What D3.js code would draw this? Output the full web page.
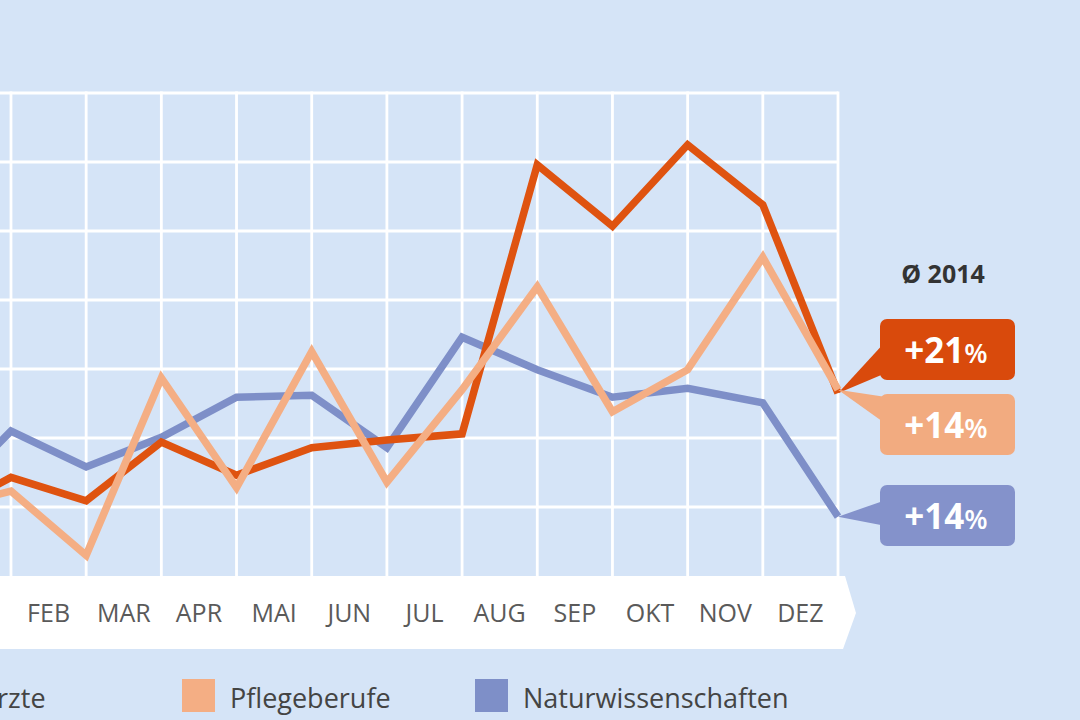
<!DOCTYPE html>
<html>
<head>
<meta charset="utf-8">
<script src="https://cdnjs.cloudflare.com/ajax/libs/d3/7.8.5/d3.min.js"></script>
<style>
body { margin: 0; background: #d5e4f7; }
svg { display: block; font-family: "Open Sans", sans-serif; }
</style>
</head>
<body>
<script>
// month labels (JAN sits left of the visible area)
var months = ["JAN", "FEB", "MAR", "APR", "MAI", "JUN", "JUL", "AUG", "SEP", "OKT", "NOV", "DEZ"];

// first value = starting point left of JAN (outside the picture), then JAN..DEZ
var aerzte = [8.4, 14.3, 10.9, 19.4, 14.6, 18.6, 19.7, 20.6, 59.6, 50.7, 62.5, 53.8, 26.5];
var pflege = [9.5, 12.3, 3.0, 28.7, 12.8, 32.5, 13.6, 27.0, 41.9, 23.8, 29.9, 46.2, 27.0];
var natur  = [10.1, 21.0, 15.8, 20.1, 25.9, 26.2, 18.6, 34.6, 29.9, 25.9, 27.2, 25.1, 8.6];

// yearly averages shown in the callouts
var seriesNames = ["Ärzte", "Pflegeberufe", "Naturwissenschaften"];
var averages = ["+21", "+14", "+14"];
var avgTitle = "Ø 2014";

var yTicks = [0, 10, 20, 30, 40, 50, 60, 70];

window.onload = drawChart();

function drawChart(){

    var width = 1080,
        height = 720;

    var colors = ["#df5310", "#f4ae84", "#7e8fc8"];
    var boxColors = ["#d94a0c", "#f2ab80", "#8492cb"];

    var svg = d3.select("body")
        .append("svg")
        .attr("width", width)
        .attr("height", height);

    //index -1 = start point, 0..11 = JAN..DEZ
    var x = d3.scaleLinear()
        .domain([-1, 11])
        .range([-64.2, 838]);

    var y = d3.scaleLinear()
        .domain([0, 70])
        .range([576, 93]);

    var idx = d3.range(-1, 12);

    //grid
    var grid = svg.append("g").attr("class", "grid");

    grid.selectAll(".hline")
        .data(yTicks.slice(1))
        .enter()
        .append("line")
        .attr("x1", -80)
        .attr("x2", x(11))
        .attr("y1", function(d){ return y(d); })
        .attr("y2", function(d){ return y(d); })
        .attr("stroke", "#fff")
        .attr("stroke-width", 2.8);

    grid.selectAll(".vline")
        .data(idx)
        .enter()
        .append("line")
        .attr("x1", function(d){ return x(d); })
        .attr("x2", function(d){ return x(d); })
        .attr("y1", y(70) - 1.4)
        .attr("y2", y(0))
        .attr("stroke", "#fff")
        .attr("stroke-width", 2.8);

    //white month band with arrow tip
    svg.append("path")
        .attr("d", "M-10,576 L845,576 L856,613 L843,649 L-10,649 Z")
        .attr("fill", "#fff");

    svg.selectAll(".month")
        .data(months)
        .enter()
        .append("text")
        .attr("class", "month")
        .attr("x", function(d, i){ return x(i - 0.5); })
        .attr("y", 622)
        .attr("text-anchor", "middle")
        .attr("font-size", 25)
        .attr("fill", "#5a5a5a")
        .text(function(d){ return d; });

    //lines: blue first, then red, peach on top
    var line = d3.line()
        .x(function(d, i){ return x(i - 1); })
        .y(function(d){ return y(d); });

    var series = [aerzte, pflege, natur];
    [2, 0, 1].forEach(function(k){
        svg.append("path")
            .datum(series[k])
            .attr("d", line)
            .attr("fill", "none")
            .attr("stroke", colors[k])
            .attr("stroke-width", 7.5)
            .attr("stroke-linejoin", "miter")
            .attr("stroke-miterlimit", 10);
    });

    //callouts
    svg.append("text")
        .attr("x", 943)
        .attr("y", 283)
        .attr("text-anchor", "middle")
        .attr("font-size", 25)
        .attr("font-weight", "bold")
        .attr("fill", "#333")
        .text(avgTitle);

    var boxTop = [319, 394, 485];
    var baseY = [[341, 373], [397, 424], [500, 526]];

    series.forEach(function(s, k){
        var ax = x(11), ay = y(s[12]);
        var g = svg.append("g");
        g.append("path")
            .attr("d", "M" + ax + "," + ay + " L886," + baseY[k][0] + " L886," + baseY[k][1] + " Z")
            .attr("fill", boxColors[k]);
        g.append("rect")
            .attr("x", 880)
            .attr("y", boxTop[k])
            .attr("width", 135)
            .attr("height", 61)
            .attr("rx", 7)
            .attr("fill", boxColors[k]);
        var t = g.append("text")
            .attr("x", 946)
            .attr("y", boxTop[k] + 44)
            .attr("text-anchor", "middle")
            .attr("font-weight", "bold")
            .attr("fill", "#fff");
        t.append("tspan").attr("font-size", 35).text(averages[k]);
        t.append("tspan").attr("font-size", 27).attr("font-weight", 600).text("%");
    });

    //legend
    var legX = [-68, 182, 475];
    var legend = svg.selectAll(".legend")
        .data(seriesNames)
        .enter()
        .append("g")
        .attr("class", "legend")
        .attr("transform", function(d, i){ return "translate(" + legX[i] + ",0)"; });

    legend.append("rect")
        .attr("x", 0)
        .attr("y", 679)
        .attr("width", 33)
        .attr("height", 33)
        .attr("fill", function(d, i){ return colors[i]; });

    legend.append("text")
        .attr("x", 48)
        .attr("y", 708)
        .attr("font-size", 27)
        .attr("fill", "#444")
        .text(function(d){ return d; });
};
</script>
</body>
</html>
